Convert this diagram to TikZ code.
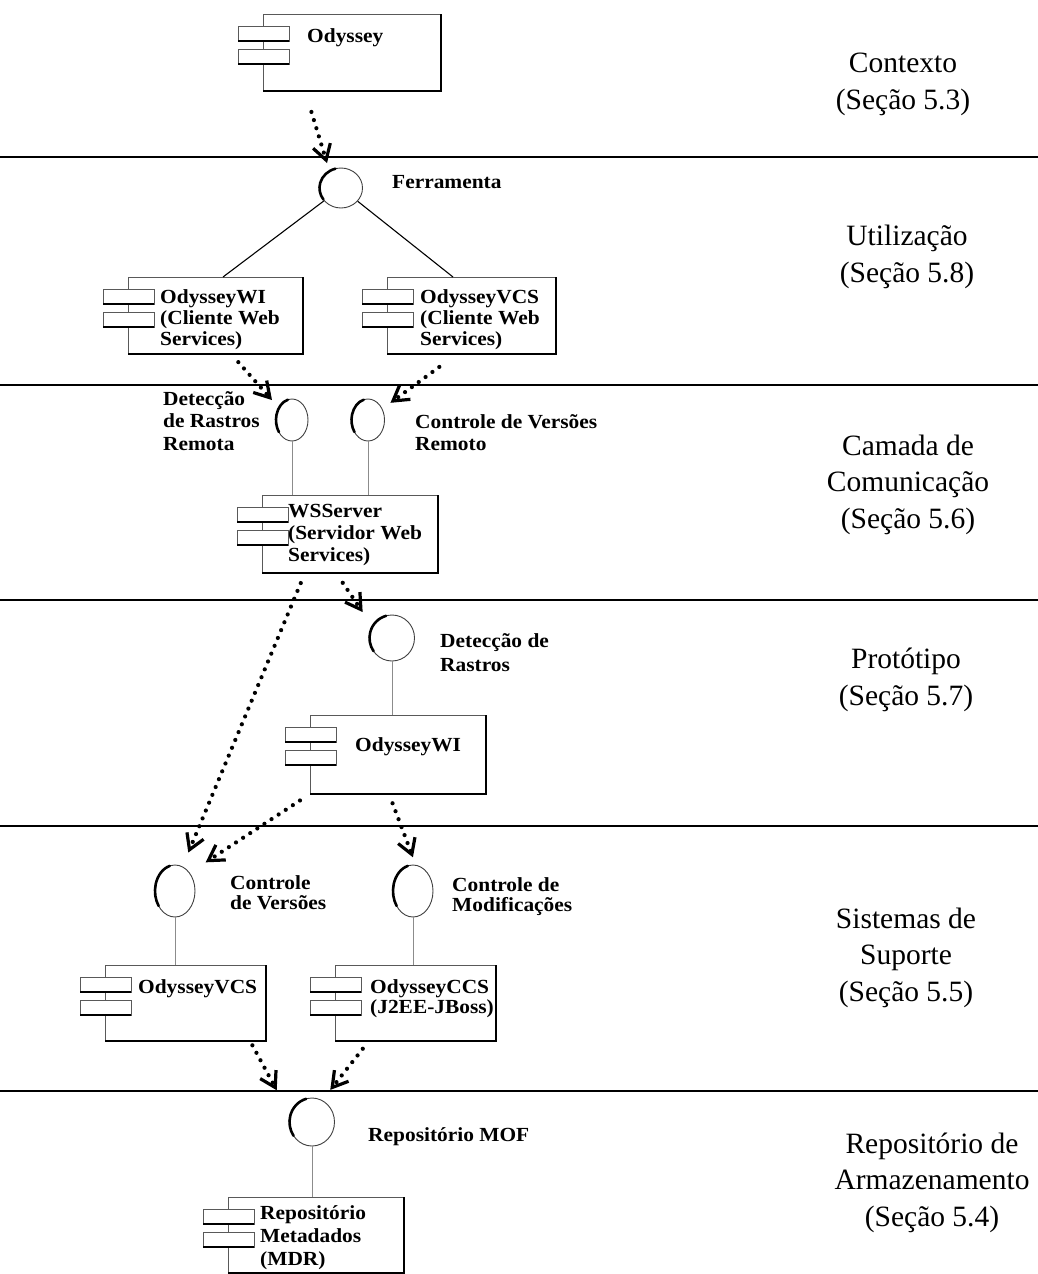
\documentclass[tikz,border=0pt]{standalone}
\usepackage{fontspec}
\setmainfont{Liberation Serif}
\newfontfamily\lblfont{Liberation Serif}[FakeStretch=1.07]
\usetikzlibrary{arrows.meta,shapes.geometric}

\tikzset{
  compbox/.style={draw=black!65, line width=0.9pt, fill=white, inner sep=0pt, anchor=north west},
  compedge/.style={line width=2.4pt, line join=miter},
  barbox/.style={draw=black!65, line width=0.9pt, fill=white},
  baredge/.style={line width=2pt},
  iface/.style={ellipse, draw=black!75, line width=0.9pt, fill=white, inner sep=0pt},
  ifacearc/.style={line width=2.6pt, line cap=round},
  link/.style={draw=black!45, line width=0.9pt},
  solidlink/.style={line width=1.1pt},
  dep/.style={line width=4.2pt, dash pattern=on 0pt off 8.5pt, line cap=round,
    -{Straight Barb[length=15pt, width=18pt, line width=3.2pt]}},
  % multi-line nodes sit on the baseline of their last line
  lbl/.style={font=\lblfont\bfseries\fontsize{20}{#1}\selectfont, inner sep=0pt, anchor=base west, align=left},
  lbl/.default=21,
  layer/.style={font=\fontsize{29.5}{36.5}\selectfont, inner sep=0pt, anchor=base, align=center},
  sep/.style={line width=2.4pt}
}

% UML component: name, left x, top y, width, height
\newcommand\umlcomp[5]{%
  \node[compbox, minimum width=#4pt, minimum height=#5pt] (#1) at (#2,#3) {};
  \draw[compedge] (#1.north east) -- (#1.south east) -- (#1.south west);
  \foreach \dy in {12,35}{%
    \draw[barbox] ([shift={(-25,\dy)}]#1.north west) rectangle ++(51,15);
    \draw[baredge] ([shift={(-25,\dy+15)}]#1.north west) -- ++(51,0);
  }%
}

% UML interface (lollipop head): name, centre x, centre y, x radius, y radius
\newcommand\umliface[5]{%
  \node[iface, minimum width=2*#4pt, minimum height=2*#5pt] (#1) at (#2,#3) {};
  \draw[ifacearc] ([shift={(105:#4pt and #5pt)}]#1.center)
    arc[start angle=105, end angle=215, x radius=#4pt, y radius=#5pt];
}

\begin{document}
\begin{tikzpicture}[x=1pt, y=-1pt]
\useasboundingbox (0,0) rectangle (1038,1274);

% layer separators
\foreach \yy in {157,385,600,826,1091}
  \draw[sep] (0,\yy) -- (1038,\yy);

% layer titles
\node[layer] (l-ctx) at (903,109)  {Contexto\\(Seção 5.3)};
\node[layer] (l-uti) at (907,282)  {Utilização\\(Seção 5.8)};
\node[layer] (l-com) at (908,528)  {Camada de\\Comunicação\\(Seção 5.6)};
\node[layer] (l-pro) at (906,705)  {Protótipo\\(Seção 5.7)};
\node[layer] (l-sup) at (906,1001) {Sistemas de\\Suporte\\(Seção 5.5)};
\node[layer] (l-rep) at (932,1226) {Repositório de\\Armazenamento\\(Seção 5.4)};

% components
\umlcomp{ody}{263}{14}{177}{76}
\umlcomp{wic}{128}{277}{174}{76}
\umlcomp{vcsc}{387}{277}{168}{76}
\umlcomp{ws}{262}{495}{175}{77}
\umlcomp{wip}{310}{715}{175}{78}
\umlcomp{vcs}{105}{965}{160}{75}
\umlcomp{ccs}{335}{965}{160}{75}
\umlcomp{mdr}{228}{1197}{175}{75}

\node[lbl] (ody-t)  at (307,42)  {Odyssey};
\node[lbl] (wic-t)  at (160,345) {OdysseyWI\\(Cliente Web\\Services)};
\node[lbl] (vcsc-t) at (420,345) {OdysseyVCS\\(Cliente Web\\Services)};
\node[lbl=22] (ws-t) at (288,561) {WSServer\\(Servidor Web\\Services)};
\node[lbl] (wip-t)  at (355,751) {OdysseyWI};
\node[lbl] (vcs-t)  at (138,993) {OdysseyVCS};
\node[lbl=20] (ccs-t) at (370,1013) {OdysseyCCS\\(J2EE-JBoss)};
\node[lbl=23] (mdr-t) at (260,1265) {Repositório\\Metadados\\(MDR)};

% interfaces
\umliface{ferr}{341}{188}{21.5}{20}
\umliface{drr}{292}{420}{16}{21}
\umliface{cvr}{368}{420}{16.5}{21}
\umliface{drp}{392}{638}{22.5}{23}
\umliface{cv}{175}{891}{20}{26}
\umliface{cm}{413}{891}{20}{26}
\umliface{mof}{312}{1122}{22.5}{24}

\node[lbl] (ferr-l) at (392,188) {Ferramenta};
\node[lbl=22.5] (drr-l) at (163,450) {Detecção\\de Rastros\\Remota};
\node[lbl=22] (cvr-l) at (415,450) {Controle de Versões\\Remoto};
\node[lbl=24] (drp-l) at (440,671) {Detecção de\\Rastros};
\node[lbl=19.5] (cv-l) at (230,909) {Controle\\de Versões};
\node[lbl=19.5] (cm-l) at (452,911) {Controle de\\Modificações};
\node[lbl] (mof-l) at (368,1141) {Repositório MOF};

% interface realisations
\draw[solidlink] (ferr) -- ([xshift=95pt]wic.north west);
\draw[solidlink] (ferr) -- ([xshift=66pt]vcsc.north west);
\draw[link] (drr) -- (drr |- ws.north);
\draw[link] (cvr) -- (cvr |- ws.north);
\draw[link] (drp) -- (drp |- wip.north);
\draw[link] (cv) -- (cv |- vcs.north);
\draw[link] (cm) -- (cm |- ccs.north);
\draw[link] (mof) -- (mof |- mdr.north);

% dependencies
\draw[dep, shorten <=22pt, shorten >=8pt]  ([xshift=42pt]ody.south west)  -- (ferr.124);
\draw[dep, shorten <=11pt, shorten >=10pt] ([xshift=103pt]wic.south west) -- (drr.137);
\draw[dep, shorten <=22pt, shorten >=10pt] ([xshift=70pt]vcsc.south west) -- (cvr.38);
\draw[dep, shorten <=11pt, shorten >=15pt] ([xshift=43pt]ws.south west)   -- (cv.73);
\draw[dep, shorten <=12pt, shorten >=17pt] ([xshift=74pt]ws.south west)   -- (drp.149);
\draw[dep, shorten <=12pt, shorten >=19pt] (wip.south west)               -- (cv.51);
\draw[dep, shorten <=10pt, shorten >=8pt]  ([xshift=79pt]wip.south west)  -- (cm.84);
\draw[dep, shorten <=5pt,  shorten >=28pt] ([xshift=145pt]vcs.south west) -- (mof.162);
\draw[dep, shorten <=10pt, shorten >=13pt] ([xshift=34pt]ccs.south west)  -- (mof.65);
\end{tikzpicture}
\end{document}
